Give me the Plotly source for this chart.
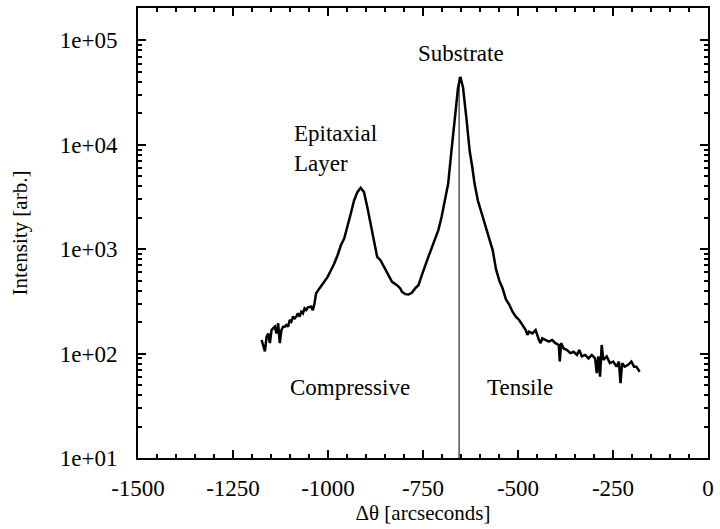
import plotly.graph_objects as go

# Rocking-curve data (Δθ in arcseconds, intensity arb.)
theta = [
    -1174.7, -1170.3, -1166.0, -1161.6, -1157.3, -1152.9, -1148.6, -1144.2, -1139.9, -1135.6,
    -1131.2, -1126.9, -1122.5, -1118.2, -1113.8, -1109.5, -1105.1, -1100.8, -1096.5, -1092.1,
    -1087.8, -1083.4, -1079.1, -1074.7, -1070.4, -1066.0, -1061.7, -1057.4, -1053.0, -1044.3,
    -1040.0, -1035.6, -1031.3, -1022.6, -1013.9, -1000.9, -992.2, -983.5, -974.8, -966.1,
    -957.4, -948.8, -940.1, -931.4, -922.7, -914.0, -905.3, -896.6, -887.9, -879.3,
    -870.6, -861.9, -857.5, -848.8, -840.2, -831.5, -818.4, -809.8, -805.4, -796.7,
    -788.0, -779.4, -770.7, -762.0, -753.3, -744.6, -735.9, -722.9, -709.8, -701.1,
    -692.5, -683.8, -675.1, -666.4, -657.7, -651.6, -644.7, -636.0, -627.3, -620.3,
    -614.3, -605.6, -592.5, -579.5, -566.5, -557.8, -549.1, -540.4, -536.1, -531.7,
    -523.1, -514.4, -505.7, -497.0, -488.3, -479.6, -475.3, -470.9, -462.2, -453.6,
    -444.9, -440.5, -436.2, -427.5, -418.8, -410.1, -401.4, -392.7, -390.1, -386.6,
    -379.7, -371.0, -362.3, -353.6, -344.9, -338.9, -331.9, -323.2, -314.5, -305.8,
    -297.1, -292.8, -288.5, -284.1, -279.8, -275.4, -266.7, -258.1, -249.4, -240.7,
    -234.6, -230.3, -225.9, -219.0, -210.3, -201.6, -194.6, -188.6, -179.9,
]
intensity = [
    135, 117, 105, 145, 156, 126, 168, 175, 181, 156,
    195, 126, 168, 181, 181, 188, 181, 210, 202, 226,
    217, 226, 243, 226, 252, 243, 271, 261, 277, 281,
    261, 302, 377, 421, 469, 543, 629, 728, 875, 1090,
    1262, 1630, 2185, 2930, 3520, 3870, 3520, 2530, 1755, 1130,
    843, 783, 728, 629, 543, 487, 452, 421, 391, 371,
    368, 382, 421, 452, 560, 700, 843, 1130, 1515, 2030,
    2925, 4225, 8790, 18280, 35340, 44670, 35340, 18280, 8790, 6095,
    4225, 2925, 2030, 1406, 975, 640, 500, 420, 370, 330,
    295, 252, 226, 210, 188, 168, 151, 162, 156, 168,
    135, 126, 140, 135, 130, 135, 126, 121, 84, 126,
    112, 108, 101, 104, 97, 108, 94, 97, 90, 97,
    90, 65, 94, 60, 121, 87, 94, 81, 84, 75,
    84, 52, 81, 75, 78, 84, 75, 75, 67,
]

# Substrate reference line
sub_x = [-655, -655]
sub_y = [10, 44670]

x_ticks = [-1500, -1250, -1000, -750, -500, -250, 0]
x_labels = ["-1500", "-1250", "-1000", "-750", "-500", "-250", "0"]
y_ticks = [10, 100, 1000, 10000, 100000]
y_labels = ["1e+01", "1e+02", "1e+03", "1e+04", "1e+05"]
y_minor = [m * 10 ** e for e in range(1, 6) for m in range(2, 10)]

FONT = "Liberation Serif"

fig = go.Figure()
fig.add_trace(go.Scatter(x=sub_x, y=sub_y, mode="lines",
                         line=dict(color="black", width=1), hoverinfo="skip"))
fig.add_trace(go.Scatter(x=theta, y=intensity, mode="lines",
                         line=dict(color="black", width=2.5)))

ann_font = dict(family=FONT, size=23, color="black")
fig.add_annotation(x=-1094.7, y=3.968, text="Epitaxial<br>Layer", showarrow=False,
                   xanchor="left", align="left", font=ann_font)
fig.add_annotation(x=-649, y=4.879, text="Substrate", showarrow=False, font=ann_font)
fig.add_annotation(x=-942.2, y=1.673, text="Compressive", showarrow=False, font=ann_font)
fig.add_annotation(x=-495.2, y=1.673, text="Tensile", showarrow=False, font=ann_font)

fig.update_layout(
    width=720, height=529,
    margin=dict(l=138, r=6, t=7, b=71),
    paper_bgcolor="white", plot_bgcolor="white",
    showlegend=False,
    font=dict(family=FONT, size=23, color="black"),
)
fig.update_xaxes(
    range=[-1500, 0], tickmode="array", tickvals=x_ticks, ticktext=x_labels,
    ticks="inside", ticklen=8, tickwidth=1.5, tickcolor="black",
    showline=True, linecolor="black", linewidth=2, mirror="ticks",
    showgrid=False, zeroline=False, ticklabelstandoff=8,
    tickfont=dict(family=FONT, size=23),
    minor=dict(ticks="inside", ticklen=4, tickwidth=1.5, tickcolor="black", dtick=50, tick0=0, showgrid=False),
    title=dict(text="Δθ [arcseconds]", font=dict(family=FONT, size=21), standoff=4),
)
fig.update_yaxes(
    type="log", range=[1, 5.31], tickmode="array", tickvals=y_ticks, ticktext=y_labels,
    ticks="inside", ticklen=8, tickwidth=1.5, tickcolor="black",
    showline=True, linecolor="black", linewidth=2, mirror="ticks",
    showgrid=False, zeroline=False, ticklabelstandoff=14,
    tickfont=dict(family=FONT, size=23),
    minor=dict(ticks="inside", ticklen=4, tickwidth=1.5, tickcolor="black",
               tickmode="array", tickvals=y_minor, showgrid=False),
    title=dict(text="Intensity [arb.]", font=dict(family=FONT, size=21), standoff=26),
)

fig.write_html("out.html")
